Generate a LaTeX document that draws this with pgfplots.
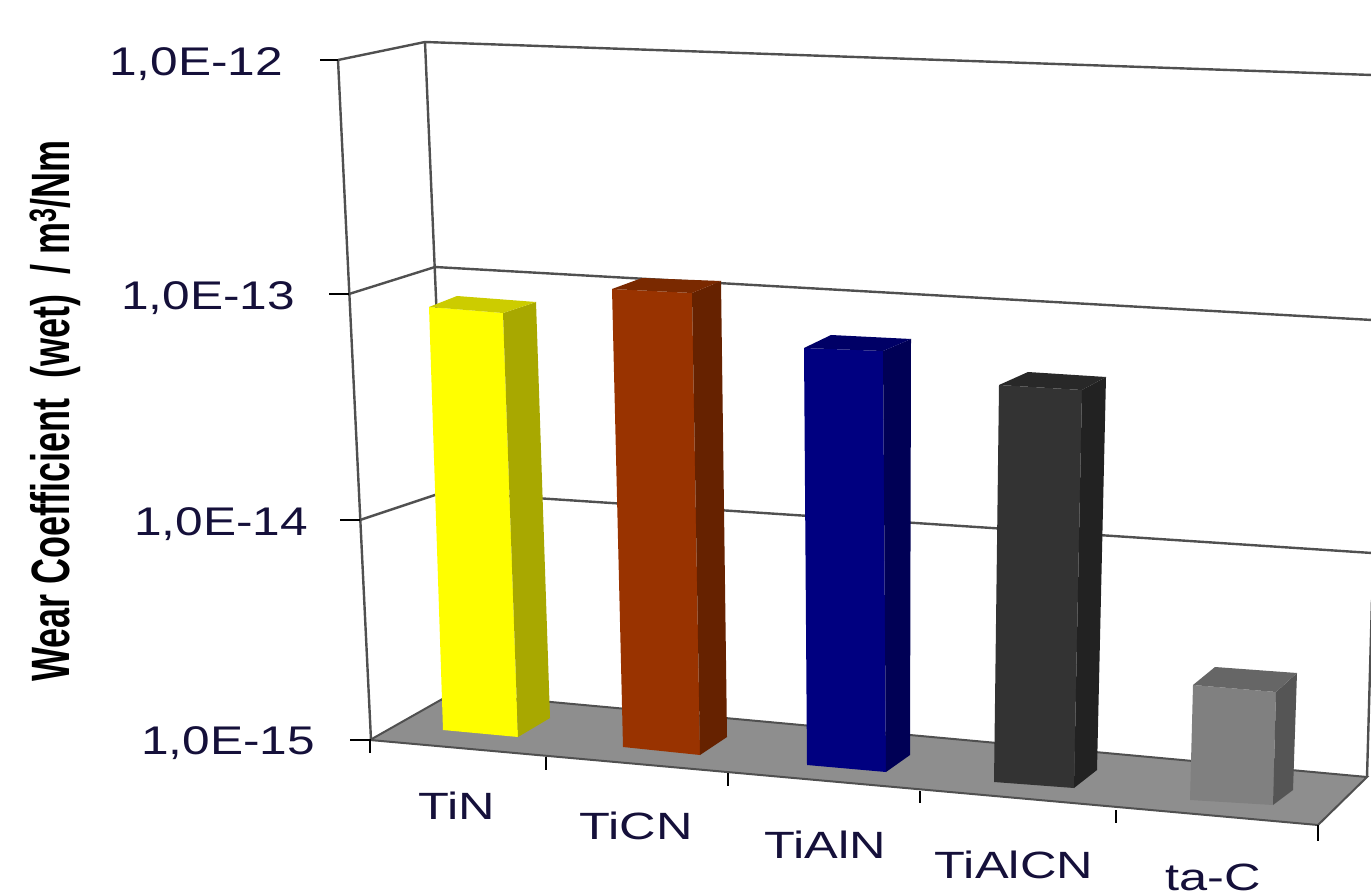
\documentclass[border=0pt]{standalone}
\usepackage{fontspec}
\setmainfont{Liberation Sans}
\usepackage{pgfplots}
\pgfplotsset{compat=1.18}
\definecolor{inkblue}{HTML}{15103A}
\definecolor{wall}{HTML}{505050}
\definecolor{floorgray}{HTML}{8E8E8E}
\definecolor{tinF}{HTML}{FFFF00}
\definecolor{tinS}{HTML}{A8A800}
\definecolor{tinT}{HTML}{CCCC00}
\definecolor{ticnF}{HTML}{993300}
\definecolor{ticnS}{HTML}{662200}
\definecolor{ticnT}{HTML}{7A2900}
\definecolor{tialnF}{HTML}{000080}
\definecolor{tialnS}{HTML}{000055}
\definecolor{tialnT}{HTML}{000066}
\definecolor{tialcnF}{HTML}{333333}
\definecolor{tialcnS}{HTML}{222222}
\definecolor{tialcnT}{HTML}{282828}
\definecolor{tacF}{HTML}{808080}
\definecolor{tacS}{HTML}{555555}
\definecolor{tacT}{HTML}{666666}
% one filled face of the 3-D view, given in drawing coordinates
\newcommand{\face}[2]{\addplot[fill=#1,draw=none,forget plot] coordinates {#2} -- cycle;}
\newcommand{\wline}[1]{\addplot[wall,line width=2.4pt,forget plot] coordinates {#1};}
\newcommand{\tk}[1]{\addplot[black,line width=2.6pt,forget plot] coordinates {#1};}
\newcommand{\ticklab}[3]{\node[anchor=east,text=inkblue,inner sep=0pt] at (axis cs:#1,#2) {\fontsize{40}{42}\selectfont\scalebox{1.24}[1]{#3}};}
\newcommand{\catlab}[3]{\node[anchor=center,text=inkblue,inner sep=0pt] at (axis cs:#1,#2) {\fontsize{38}{40}\selectfont\scalebox{1.33}[1]{#3}};}
\begin{document}
\begin{tikzpicture}
\begin{axis}[
  scale only axis,width=1371pt,height=893pt,
  xmin=0,xmax=1371,ymin=0,ymax=893,y dir=reverse,
  hide axis,clip=true]
% page-sized white ground
\path[fill=white] (axis cs:0,0) rectangle (axis cs:1371,893);
% walls and gridlines
\wline{(338,60)(425,42)(1372,75)}
\wline{(349,294)(435,267)(1372,320)}
\wline{(360,520)(444,492)(1372,553)}
\wline{(338,60)(371,740)}
\wline{(425,42)(453,693)}
\wline{(1367,777)(1372,600)}
% floor
\addplot[fill=floorgray,draw=wall,line width=2pt,forget plot] coordinates {(370,740)(453,693)(1367,777)(1318,825)} -- cycle;
% value-axis ticks
\tk{(320,60)(338,60)}
\tk{(329,294)(349,294)}
\tk{(340,520)(360,520)}
\tk{(350,740)(371,740)}
% category ticks
\tk{(370,740)(370,753)}
\tk{(546,757)(546,770)}
\tk{(728,773)(728,786)}
\tk{(920,791)(920,803)}
\tk{(1116,810)(1116,823)}
\tk{(1318,825)(1318,841)}
% TiN
\face{tinF}{(429,307)(503,313)(518,737)(443,730)}
\face{tinS}{(503,313)(536,302)(550,718)(518,737)}
\face{tinT}{(429,307)(457,296)(536,302)(503,313)}
% TiCN
\face{ticnF}{(612,289)(692,293)(700,755)(623,747)}
\face{ticnS}{(692,293)(721,281)(727,737)(700,755)}
\face{ticnT}{(612,289)(642,278)(721,281)(692,293)}
% TiAlN
\face{tialnF}{(804,348)(883,351)(886,772)(807,765)}
\face{tialnS}{(883,351)(911,339)(910,755)(886,772)}
\face{tialnT}{(804,348)(831,335)(911,339)(883,351)}
% TiAlCN
\face{tialcnF}{(999,385)(1082,390)(1074,788)(994,782)}
\face{tialcnS}{(1082,390)(1106,377)(1097,770)(1074,788)}
\face{tialcnT}{(999,385)(1028,372)(1106,377)(1082,390)}
% ta-C
\face{tacF}{(1193,685)(1276,692)(1273,805)(1190,800)}
\face{tacS}{(1276,692)(1297,673)(1293,790)(1273,805)}
\face{tacT}{(1193,685)(1215,667)(1297,673)(1276,692)}
% labels
\ticklab{283}{64}{1,0E-12}
\ticklab{295}{298}{1,0E-13}
\ticklab{308}{524}{1,0E-14}
\ticklab{315}{743}{1,0E-15}
\catlab{457}{806}{TiN}
\catlab{636}{826}{TiCN}
\catlab{825}{845}{TiAlN}
\catlab{1014}{865}{TiAlCN}
\catlab{1213}{877}{ta-C}
\node[rotate=90,anchor=center,inner sep=0pt,text=black] at (axis cs:55,411) {\fontsize{36}{38}\selectfont\bfseries\scalebox{1}[1.5]{Wear Coefficient\ \ (wet)\ \ /\ m\textsuperscript{3}/Nm}};
\end{axis}
\end{tikzpicture}
\end{document}
